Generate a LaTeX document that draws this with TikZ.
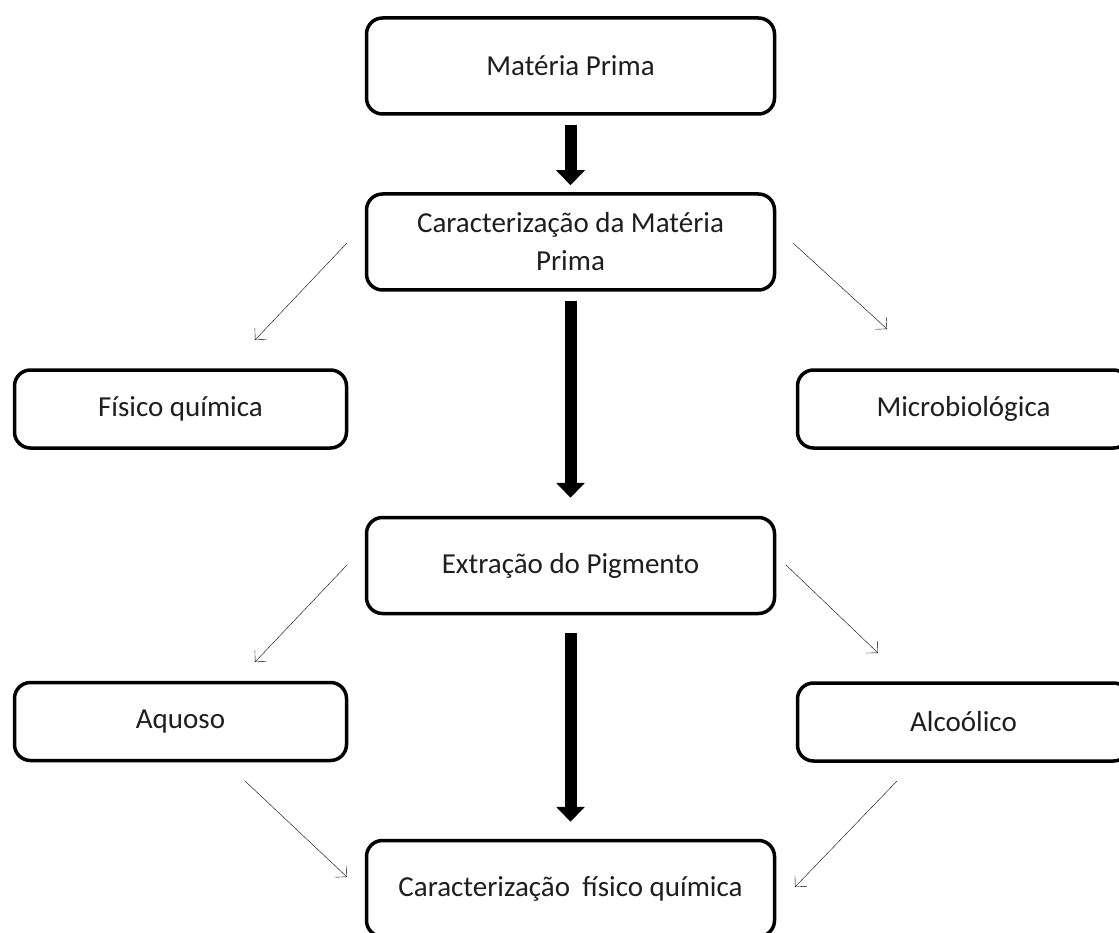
\documentclass[tikz,border=0pt]{standalone}
\usepackage{fontspec}
\setmainfont{Carlito}
\usetikzlibrary{arrows.meta}
\definecolor{txt}{RGB}{30,30,30}
\definecolor{thin}{RGB}{60,60,60}
\tikzset{
  box/.style={draw=black, line width=3.5pt, rounded corners=16pt, fill=white,
    text=txt, align=center, font=\fontsize{29}{38}\selectfont, inner sep=0pt},
  mainbox/.style={box, minimum width=408pt, minimum height=96pt},
  sidebox/.style={box, minimum width=332pt, minimum height=78pt},
  bigarrow/.style={line width=12pt, black, -{Triangle[length=15pt,width=28pt]}},
  thinarrow/.style={line width=1.5pt, thin, -{Straight Barb[length=8pt,width=16pt]}}
}
\begin{document}
\begin{tikzpicture}[x=1pt,y=-1pt]
\useasboundingbox (0,0) rectangle (1119,933);
\clip (0,0) rectangle (1119,933);
\node[mainbox] (mp)  at (570.5,66)    {Matéria Prima};
\node[mainbox] (car) at (570.5,242)   {Caracterização da Matéria\\Prima};
\node[sidebox] (fis) at (180.5,409)   {Físico química};
\node[sidebox] (mic) at (963.5,409)   {Microbiológica};
\node[mainbox] (ext) at (570.5,565.5) {Extração do Pigmento};
\node[sidebox] (aq)  at (180.5,721.5) {Aquoso};
\node[sidebox] (alc) at (963.5,722)   {Alcoólico};
\node[mainbox] (cfq) at (570.5,888.5) {Caracterização\hspace{0.2em} físico química};

\draw[bigarrow, shorten <=9pt, shorten >=7pt] (mp.south) -- (car.north);
\draw[bigarrow, shorten <=9pt, shorten >=18pt] (car.south) -- (ext.north);
\draw[bigarrow, shorten <=18pt, shorten >=17pt] (ext.south) -- (cfq.north);

\coordinate (a1s) at (347,243); \coordinate (a1e) at (255,340);
\coordinate (a2s) at (793,243); \coordinate (a2e) at (887,329);
\coordinate (a3s) at (347,565); \coordinate (a3e) at (255,662);
\coordinate (a4s) at (786,565); \coordinate (a4e) at (878,653);
\coordinate (a5s) at (245,781); \coordinate (a5e) at (347,877);
\coordinate (a6s) at (897,781); \coordinate (a6e) at (795,887);
\draw[thinarrow] (a1s) -- (a1e);
\draw[thinarrow] (a2s) -- (a2e);
\draw[thinarrow] (a3s) -- (a3e);
\draw[thinarrow] (a4s) -- (a4e);
\draw[thinarrow] (a5s) -- (a5e);
\draw[thinarrow] (a6s) -- (a6e);
\end{tikzpicture}
\end{document}
